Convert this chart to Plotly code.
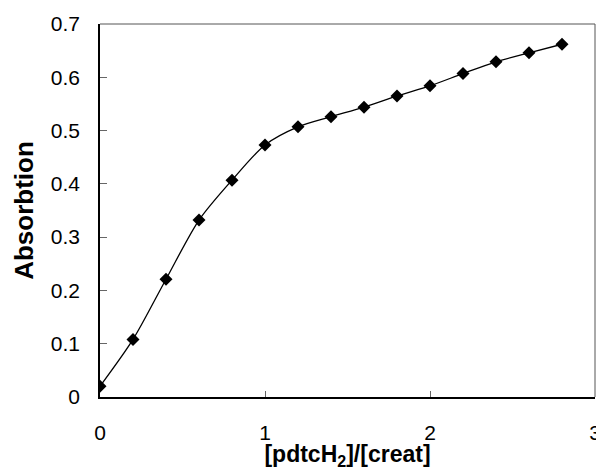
import plotly.graph_objects as go

ratio = [0.0, 0.2, 0.4, 0.6, 0.8, 1.0, 1.2, 1.4, 1.6, 1.8, 2.0, 2.2, 2.4, 2.6, 2.8]
absorbtion = [0.020, 0.108, 0.221, 0.332, 0.407, 0.473, 0.507, 0.526, 0.544,
              0.565, 0.584, 0.607, 0.629, 0.646, 0.662]
x_ticks = [0, 1, 2, 3]
y_ticks = [0, 0.1, 0.2, 0.3, 0.4, 0.5, 0.6, 0.7]

fig = go.Figure()
fig.add_trace(go.Scatter(
    x=ratio, y=absorbtion, mode="lines+markers",
    line=dict(color="black", width=1.3, shape="spline", smoothing=0.8),
    marker=dict(symbol="diamond", size=10, color="black"),
    showlegend=False,
))

font = "Liberation Sans, Arial, sans-serif"
# page body has an 8px default margin, so the figure is sized/offset to compensate
fig.update_layout(
    width=596, height=462,
    margin=dict(l=92, r=9, t=16, b=73),
    paper_bgcolor="white", plot_bgcolor="white",
    font=dict(family=font, color="black", size=21),
    xaxis=dict(
        range=[0, 3], tickvals=x_ticks, ticktext=[str(v) for v in x_ticks],
        showgrid=False, zeroline=False, showline=True, linecolor="black", linewidth=2,
        ticks="inside", ticklen=6, tickcolor="#666", tickwidth=1,
        ticklabelstandoff=16, automargin=False,
        title=dict(text="<b>[pdtcH<sub>2</sub>]/[creat]</b>", font=dict(size=23), standoff=0),
    ),
    yaxis=dict(
        range=[0, 0.7], tickvals=y_ticks, ticktext=["0", "0.1", "0.2", "0.3", "0.4", "0.5", "0.6", "0.7"],
        showgrid=False, zeroline=False, showline=True, linecolor="black", linewidth=1.5,
        ticks="inside", ticklen=7, tickcolor="#666", tickwidth=1,
        ticklabelstandoff=14, automargin=False,
        title=dict(text="<b>Absorbtion</b>", font=dict(size=26), standoff=10),
    ),
    shapes=[
        dict(type="line", xref="paper", yref="paper", x0=0, x1=1, y0=1, y1=1,
             line=dict(color="#555", width=1)),
        dict(type="line", xref="paper", yref="paper", x0=1, x1=1, y0=0, y1=1,
             line=dict(color="#555", width=1)),
    ],
)

fig.write_html("out.html")
